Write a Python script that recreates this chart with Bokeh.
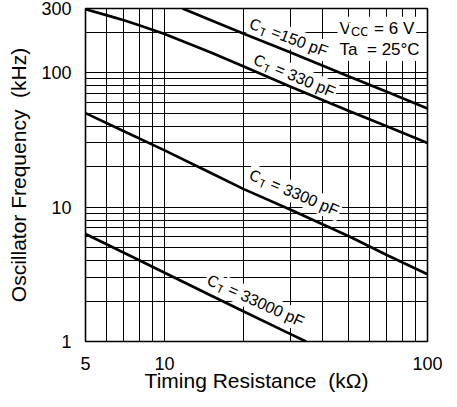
import math
from bokeh.plotting import figure
from bokeh.models import Range1d, FixedTicker
from bokeh.core.properties import value
from bokeh.embed import file_html
from bokeh.resources import INLINE

# ---- data ----
r_150 = [11.7, 20, 30, 50, 70, 100]
f_150 = [300, 195, 142, 94, 72, 54]

r_330 = [5, 6, 7, 8, 10, 15, 20, 30, 50, 70, 100]
f_330 = [296, 268, 245, 225, 194, 141, 111, 79, 52, 40, 30]

r_3300 = [5, 7, 10, 15, 20, 30, 50, 70, 100]
f_3300 = [50, 36.7, 26.4, 17.9, 13.6, 9.6, 6.1, 4.4, 3.16]

r_33000 = [5, 7, 10, 15, 20, 30, 34.5]
f_33000 = [6.3, 4.57, 3.25, 2.2, 1.67, 1.14, 1.0]

x_ticks = [5, 10, 100]
x_tick_labels = ["5", "10", "100"]
y_ticks = [1, 10, 100, 300]
y_tick_labels = ["1", "10", "100", "300"]
x_grid = [6, 7, 8, 9, 10, 20, 30, 40, 50, 60, 70, 80, 90]
y_grid = [2, 3, 4, 5, 6, 7, 8, 9, 10, 20, 30, 40, 50, 60, 70, 80, 90, 100, 200]

ct_texts = ["\u00a0=150 pF", "\u00a0= 330 pF", "\u00a0= 3300 pF", "\u00a0= 33000 pF"]
ct_label_r = [20.8, 21.6, 20.8, 14.4]
ct_label_f = [237, 128.5, 17.9, 2.96]
ct_label_angle = [20.5, 23.0, 23.0, 24.5]

cond_r = 45.5
cond_f = [214, 148.6]

FONT = "Liberation Sans"
W = {' ': 278, '\u00a0': 278, '=': 584, 'C': 722, 'T': 611, 'V': 667, 'p': 556,
     'F': 611, 'a': 556, '°': 400}
for d in "0123456789":
    W[d] = 556


def text_width(s, size):
    return sum(W.get(ch, 556) for ch in s) * size / 1000.0


p = figure(width=457, height=407, x_axis_type="log", y_axis_type="log",
           x_range=Range1d(5, 100), y_range=Range1d(1, 300),
           output_backend="svg", toolbar_location=None,
           min_border_left=85, min_border_right=30, min_border_top=8,
           min_border_bottom=66)
p.background_fill_color = "white"
p.border_fill_color = "white"
p.outline_line_color = "black"
p.outline_line_width = 1.6

p.xgrid.ticker = FixedTicker(ticks=x_grid)
p.ygrid.ticker = FixedTicker(ticks=y_grid)
for g in (p.xgrid, p.ygrid):
    g.grid_line_color = "black"
    g.grid_line_alpha = 1.0
    g.grid_line_width = 1

p.xaxis.ticker = FixedTicker(ticks=x_ticks)
p.yaxis.ticker = FixedTicker(ticks=y_ticks)
p.xaxis.major_label_overrides = {t: l for t, l in zip(x_ticks, x_tick_labels)}
p.yaxis.major_label_overrides = {t: l for t, l in zip(y_ticks, y_tick_labels)}

for ax in (p.xaxis, p.yaxis):
    ax.axis_line_color = None
    ax.major_tick_line_color = None
    ax.minor_tick_line_color = None
    ax.major_tick_out = 0
    ax.major_tick_in = 0
    ax.minor_tick_out = 0
    ax.major_label_text_font = FONT
    ax.major_label_text_font_size = "18px"
    ax.major_label_text_color = "black"
    ax.axis_label_text_font = FONT
    ax.axis_label_text_font_size = "21px"
    ax.axis_label_text_font_style = "normal"
    ax.axis_label_text_color = "black"

p.xaxis.axis_label = "Timing Resistance \u00a0(k\u03a9)"
p.yaxis.axis_label = "Oscillator Frequency \u00a0(kHz)"
p.xaxis.major_label_standoff = 15
p.yaxis.major_label_standoff = 14
p.xaxis.axis_label_standoff = -4
p.yaxis.axis_label_standoff = 8


def rich_text(x, y, pieces, angle_deg, size):
    th = math.radians(angle_deg)
    c, s = math.cos(th), math.sin(th)
    d = 0.0
    for txt, scale, shift in pieces:
        sz = size * scale
        dx = d * c - shift * s
        dy = d * s + shift * c
        p.text(x=[x], y=[y], text=[txt], angle=-th, x_offset=dx, y_offset=dy,
               text_font=value(FONT), text_font_size=f"{sz:.1f}px",
               text_color="black", text_align="left", text_baseline="middle",
               background_fill_color="white", padding=2)
        d += text_width(txt, sz)


SIZE = 16
for txt, rx, fy, ang in zip(ct_texts, ct_label_r, ct_label_f, ct_label_angle):
    rich_text(rx, fy, [("C", 1.0, 0.0), ("T", 0.74, 0.27 * SIZE), (txt, 1.0, 0.0)],
              ang, SIZE)

CS = 17
rich_text(cond_r, cond_f[0], [("V", 1.0, 0.0), ("CC", 0.75, 0.22 * CS),
                              ("\u00a0= 6 V", 1.0, 0.0)], 0, CS)
rich_text(cond_r, cond_f[1], [("Ta \u00a0= 25\u00b0C", 1.0, 0.0)], 0, CS)

for rr, ff in ((r_150, f_150), (r_330, f_330), (r_3300, f_3300), (r_33000, f_33000)):
    p.line(rr, ff, line_color="black", line_width=2.7)

open("out.html", "w").write(file_html(p, INLINE))
